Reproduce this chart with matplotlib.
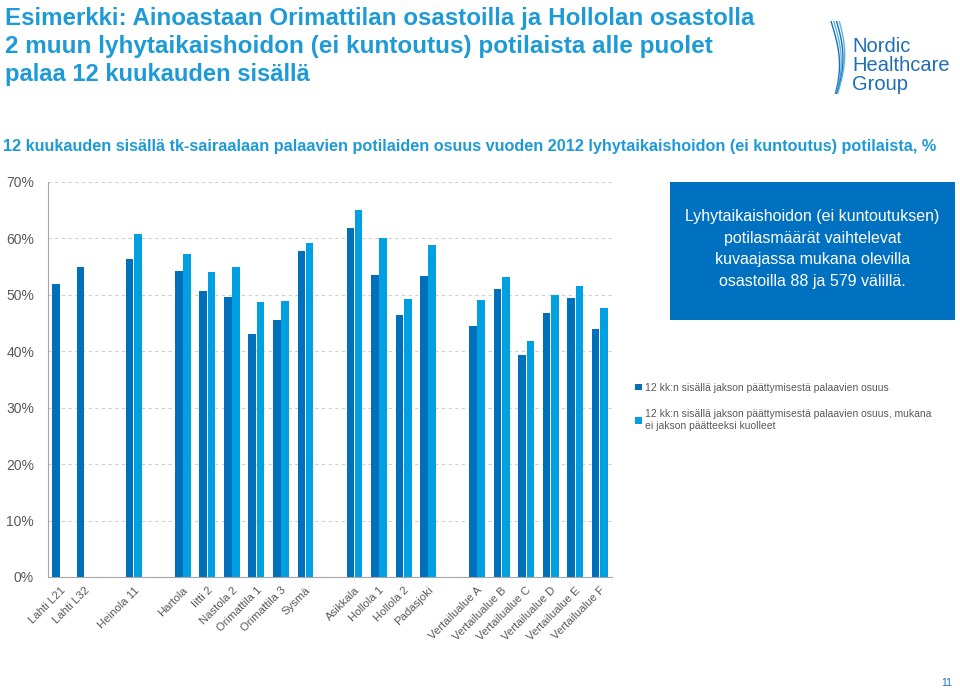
import matplotlib.pyplot as plt
import numpy as np
from matplotlib.patches import Rectangle

# category labels, '' = empty slot between groups
units = ['Lahti L21', 'Lahti L32', '', 'Heinola 11', '', 'Hartola', 'Iitti 2',
         'Nastola 2', 'Orimattila 1', 'Orimattila 3', 'Sysmä', '', 'Asikkala',
         'Hollola 1', 'Hollola 2', 'Padasjoki', '', 'Vertailualue A',
         'Vertailualue B', 'Vertailualue C', 'Vertailualue D', 'Vertailualue E',
         'Vertailualue F']
share = [51.9, 55.0, np.nan, 56.4, np.nan, 54.2, 50.6, 49.6, 43.0, 45.5, 57.8,
         np.nan, 61.8, 53.5, 46.4, 53.4, np.nan, 44.4, 51.1, 39.4, 46.8, 49.4, 44.0]
share_no_dead = [np.nan, np.nan, np.nan, 60.8, np.nan, 57.3, 54.0, 54.9, 48.7,
                 48.9, 59.2, np.nan, 65.1, 60.1, 49.2, 58.8, np.nan, 49.1, 53.2,
                 41.9, 49.9, 51.5, 47.6]
yticks = [0, 10, 20, 30, 40, 50, 60, 70]

DARK = '#0070BA'
LIGHT = '#00A0E3'
TITLE = '#1E9AD6'
GREY = '#595959'

plt.rcParams['font.family'] = ['Liberation Sans', 'DejaVu Sans']

fig = plt.figure(figsize=(9.6, 6.94), dpi=100)
renderer = fig.canvas.get_renderer()


def fit_text(x, y, s, width_px, **kw):
  """Shrink a text until it is width_px wide (narrow font stand-in)."""
  t = fig.text(x, y, s, **kw)
  w = t.get_window_extent(renderer).width
  t.set_fontsize(t.get_fontsize() * width_px / w)
  return t


title_lines = ['Esimerkki: Ainoastaan Orimattilan osastoilla ja Hollolan osastolla',
               '2 muun lyhytaikaishoidon (ei kuntoutus) potilaista alle puolet',
               'palaa 12 kuukauden sisällä']
title_w = [753, 707, 307]
for i, (s, wpx) in enumerate(zip(title_lines, title_w)):
  fit_text(0.005, 1 - (19 + 28 * i) / 694, s, wpx, va='center', ha='left',
           fontsize=17, fontweight='bold', color=TITLE)
fit_text(0.003, 1 - 146 / 694, '12 kuukauden sisällä tk-sairaalaan palaavien potilaiden osuus '
         'vuoden 2012 lyhytaikaishoidon (ei kuntoutus) potilaista, %', 932,
         va='center', ha='left', fontsize=12, fontweight='bold', color=TITLE)

# logo
fig.text(0.888, 0.905, 'Nordic\nHealthcare\nGroup', va='center', ha='left', fontsize=14.5,
         color='#1F6FB5', linespacing=1.0)
lax = fig.add_axes([0.858, 0.865, 0.03, 0.105])
lax.axis('off')
t = np.linspace(0, 1, 50)
for k in range(4):
  lax.plot(0.25 + 0.3 * np.sin(t * 2.6 + k * 0.12) + k * 0.06, 1 - t,
           color='#1F6FB5' if k % 2 == 0 else '#5BB4E5', lw=1.0)
lax.set_xlim(0, 1)
lax.set_ylim(0, 1)

ax = fig.add_axes([0.05, 0.1686, 0.5875, 0.5692])
x = np.arange(len(units))
w = 0.31
ax.bar(x - w / 2 - 0.015, share, width=w, color=DARK,
       label='12 kk:n sisällä jakson päättymisestä palaavien osuus')
ax.bar(x + w / 2 + 0.015, share_no_dead, width=w, color=LIGHT,
       label='12 kk:n sisällä jakson päättymisestä palaavien osuus, mukana\nei jakson päätteeksi kuolleet')
ax.set_xlim(-0.5, len(units) - 0.5)
ax.set_ylim(0, 70)
ax.set_yticks(yticks)
ax.set_yticklabels([f'{v}%' for v in yticks], color=GREY, fontsize=10)
ax.yaxis.grid(True, linestyle=(0, (3, 3)), color='#D0D0D0', lw=0.8)
ax.set_axisbelow(True)
ax.set_xticks(x)
ax.set_xticklabels(units, rotation=45, ha='right', rotation_mode='anchor',
                   fontsize=8.2, color=GREY)
ax.tick_params(length=0, pad=10)
ax.tick_params(axis='x', pad=6)
for s in ['top', 'right']:
  ax.spines[s].set_visible(False)
for s in ['left', 'bottom']:
  ax.spines[s].set_color('#A6A6A6')

fig.legend(loc='upper left', bbox_to_anchor=(0.652, 0.462), frameon=False,
           fontsize=7.5, handlelength=0.6, handleheight=0.6, handletextpad=0.3,
           labelspacing=1.6, labelcolor=GREY)

# note box
fig.patches.append(Rectangle((0.698, 0.539), 0.297, 0.199, transform=fig.transFigure,
                             facecolor='#0070C0', edgecolor='none'))
fig.text(0.8465, 0.641, 'Lyhytaikaishoidon (ei kuntoutuksen)\npotilasmäärät vaihtelevat\n'
         'kuvaajassa mukana olevilla\nosastoilla 88 ja 579 välillä.', ha='center',
         va='center', color='white', fontsize=11.5, linespacing=1.55)

fig.text(0.992, 0.008, '11', ha='right', va='bottom', color='#1F6FB5', fontsize=7.5)

fig.savefig('out.png', dpi=100)
